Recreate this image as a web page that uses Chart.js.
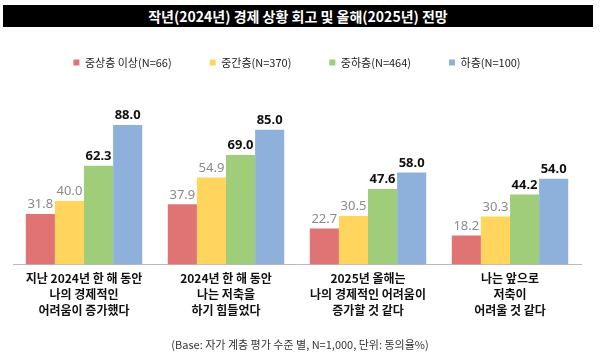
<!DOCTYPE html>
<html>
<head>
<meta charset="utf-8">
<script src="https://cdn.jsdelivr.net/npm/chart.js@4"></script>
<style>
  body { margin: 0; background: #fff; font-family: "Noto Sans CJK KR", sans-serif; }
  #wrap { position: relative; width: 600px; height: 360px; }
  #title {
    position: absolute; left: 3px; top: 5px; width: 590px; height: 22px;
    background: #000; color: #fff; font-size: 14px; font-weight: bold;
    text-align: center; line-height: 22px;
  }
  #note {
    position: absolute; left: 0; top: 336px; width: 600px;
    text-align: center; font-size: 11px; color: #333;
  }
  #box { position: absolute; left: 0; top: 0; width: 600px; height: 360px; }
</style>
</head>
<body>
<div id="wrap">
  <div id="box"><canvas id="chart"></canvas></div>
  <div id="title">작년(2024년) 경제 상황 회고 및 올해(2025년) 전망</div>
  <div id="note">(Base: 자가 계층 평가 수준 별, N=1,000, 단위: 동의율%)</div>
</div>
<script>
// categories and series
var categories = [
    ['지난 2024년 한 해 동안', '나의 경제적인', '어려움이 증가했다'],
    ['2024년 한 해 동안', '나는 저축을', '하기 힘들었다'],
    ['2025년 올해는', '나의 경제적인 어려움이', '증가할 것 같다'],
    ['나는 앞으로', '저축이', '어려울 것 같다']
];
var seriesNames = ['중상층 이상(N=66)', '중간층(N=370)', '중하층(N=464)', '하층(N=100)'];
var upperMiddle = [31.8, 37.9, 22.7, 18.2];
var middle = [40.0, 54.9, 30.5, 30.3];
var lowerMiddle = [62.3, 69.0, 47.6, 44.2];
var lower = [88.0, 85.0, 58.0, 54.0];
var colors = ['#E07373', '#FFD55E', '#A0CD7A', '#8EB1DC'];

// value labels above bars
var valueLabels = {
    id: 'valueLabels',
    afterDatasetsDraw: function(chart) {
        var ctx = chart.ctx;
        ctx.save();
        ctx.textAlign = 'center';
        ctx.textBaseline = 'bottom';
        chart.data.datasets.forEach(function(ds, i) {
            var meta = chart.getDatasetMeta(i);
            var strong = i >= 2;
            ctx.fillStyle = strong ? '#111' : '#8a8a8a';
            ctx.font = (strong ? 'bold ' : '') + '13px "Noto Sans", sans-serif';
            meta.data.forEach(function(bar, j) {
                ctx.fillText(ds.data[j].toFixed(1), bar.x, bar.y - 3);
            });
        });
        ctx.restore();
    }
};

// extra room under the legend
var legendGap = {
    id: 'legendGap',
    beforeInit: function(chart) {
        var fit = chart.legend.fit;
        chart.legend.fit = function() {
            fit.bind(chart.legend)();
            this.height += 28;
        };
    }
};

var ctx = document.getElementById('chart').getContext('2d');
var chart = new Chart(ctx, {
    type: 'bar',
    data: {
        labels: categories,
        datasets: [upperMiddle, middle, lowerMiddle, lower].map(function(d, i) {
            return {
                label: seriesNames[i],
                data: d,
                backgroundColor: colors[i],
                categoryPercentage: 0.82,
                barPercentage: 1.0
            };
        })
    },
    options: {
        responsive: true,
        maintainAspectRatio: false,
        animation: false,
        layout: { padding: { top: 19, left: 13, right: 19, bottom: 43 } },
        plugins: {
            legend: {
                position: 'top',
                labels: {
                    boxWidth: 6, boxHeight: 6, padding: 38,
                    color: '#222',
                    font: { size: 11, family: '"Noto Sans CJK KR", sans-serif' }
                }
            },
            tooltip: { enabled: false }
        },
        scales: {
            x: {
                grid: { display: false },
                border: { color: '#bbb' },
                ticks: {
                    color: '#111', padding: -2,
                    font: { size: 12, weight: 'bold', family: '"Noto Sans CJK KR", sans-serif', lineHeight: 1.35 }
                }
            },
            y: { display: false, min: 0, max: 100 }
        }
    },
    plugins: [valueLabels, legendGap]
});
</script>
</body>
</html>
